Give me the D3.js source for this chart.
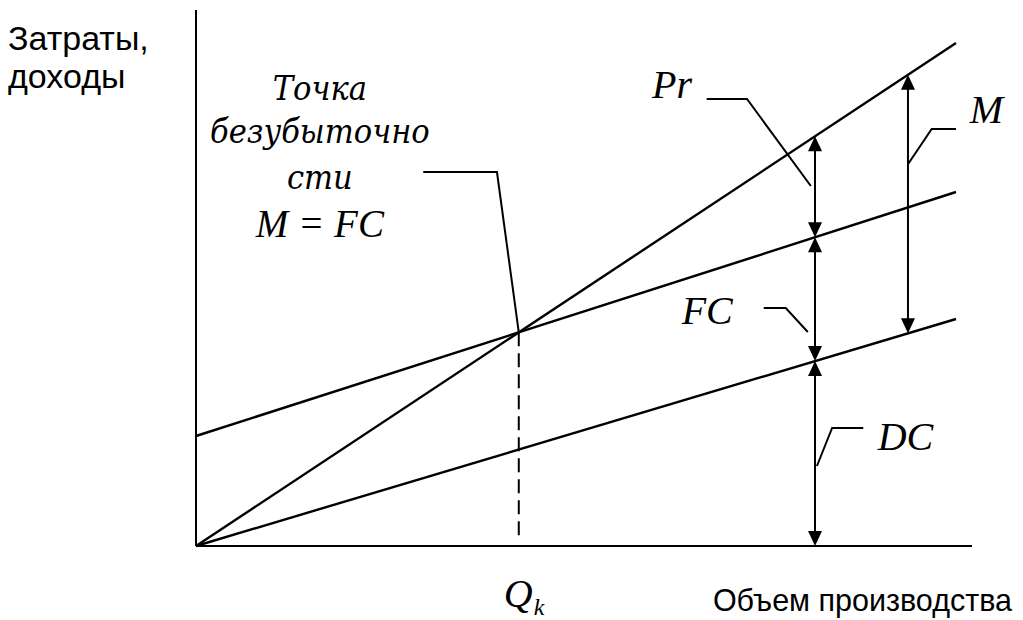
<!DOCTYPE html>
<html>
<head>
<meta charset="utf-8">
<script src="https://cdn.jsdelivr.net/npm/d3@7"></script>
<style>
  html, body { margin: 0; padding: 0; background: #fff; }
  svg { display: block; }
</style>
</head>
<body>
<svg id="chart" width="1023" height="620"></svg>
<script>
// ---------------- DATA ----------------
// Volume (Q) at the two ends of each line
const volume = [0, 100];
// Revenue line (TR), total-cost line (TC = FC + DC), variable-cost line (DC)
const revenue = [0, 100.6];
const totalCost = [22, 70.8];
const variableCost = [0, 45.4];
// Volumes where the measuring arrows stand
const arrowVolumeLeft = 81.45;   // Pr / FC / DC
const arrowVolumeRight = 93.68;  // M
// Axis extents (data units)
const xAxisMax = 102.1;
const yAxisMax = 107.2;
// Text labels
const yAxisTitle = ["Затраты,", "доходы"];
const xAxisTitle = "Объем производства";
const breakEvenText = ["Точка", "безубыточно", "сти", "M = FC"];
const qLabel = ["Q", "k"];

// Annotations: label text, label anchor (data units), leader polyline (data units)
const annotations = [
  { text: "Pr", at: [60.0, 89.6], leader: [[67.2, 89.4], [72.5, 89.4], [80.9, 72.0]] },
  { text: "M",  at: [101.8, 84.6], leader: [[100.0, 83.4], [96.8, 83.4], [93.7, 76.4]] },
  { text: "FC", at: [63.9, 44.4], leader: [[74.7, 47.6], [77.6, 47.6], [80.5, 42.8]] },
  { text: "DC", at: [89.7, 19.2], leader: [[87.8, 23.6], [83.7, 23.6], [81.7, 16.0]] }
];
const breakEvenLeader = [[29.9, 74.8], [39.6, 74.8]];
const breakEvenTextX = 16.3;
const breakEvenTextY = [89.2, 80.6, 71.4, 61.8];
const qLabelY = -12.2;

// ---------------- LAYOUT ----------------
const svg = d3.select("#chart");
const x = d3.scaleLinear().domain([0, 100]).range([196, 956]);
const y = d3.scaleLinear().domain([0, 100]).range([546, 46]);
const serif = "'Liberation Serif', 'Times New Roman', serif";
const cyrItalic = "'DejaVu Serif Condensed', 'DejaVu Serif', serif";
const sans = "'Liberation Sans', Arial, sans-serif";

const lineGen = d3.line().x(d => x(d[0])).y(d => y(d[1]));
const interp = (arr, q) => arr[0] + (arr[1] - arr[0]) * (q - volume[0]) / (volume[1] - volume[0]);

// Axes
svg.append("line").attr("x1", x(0)).attr("y1", y(0)).attr("x2", x(xAxisMax)).attr("y2", y(0))
  .attr("stroke", "#000").attr("stroke-width", 2);
svg.append("line").attr("x1", x(0)).attr("y1", y(0)).attr("x2", x(0)).attr("y2", y(yAxisMax))
  .attr("stroke", "#000").attr("stroke-width", 2);

// Main lines
[revenue, totalCost, variableCost].forEach(s => {
  svg.append("path")
    .attr("d", lineGen(volume.map((q, i) => [q, s[i]])))
    .attr("fill", "none").attr("stroke", "#000").attr("stroke-width", 2.4);
});

// Break-even point
const slopeR = (revenue[1] - revenue[0]) / (volume[1] - volume[0]);
const slopeT = (totalCost[1] - totalCost[0]) / (volume[1] - volume[0]);
const qBE = (totalCost[0] - revenue[0]) / (slopeR - slopeT);
const vBE = interp(revenue, qBE);

svg.append("line")
  .attr("x1", x(qBE)).attr("y1", y(vBE)).attr("x2", x(qBE)).attr("y2", y(0) - 7)
  .attr("stroke", "#000").attr("stroke-width", 2).attr("stroke-dasharray", "14,7");

// Arrows
function arrowHead(px, py, dir) { // dir: -1 pointing up, +1 pointing down; tip at (px,py)
  const L = 15, W = 7;
  svg.append("path")
    .attr("d", `M${px},${py} L${px - W},${py - dir * L} L${px + W},${py - dir * L} Z`)
    .attr("fill", "#000");
}
function doubleArrow(q, v1, v2) { // v1 lower, v2 upper
  const px = x(q), yb = y(v1), yt = y(v2);
  svg.append("line").attr("x1", px).attr("y1", yb - 10).attr("x2", px).attr("y2", yt + 10)
    .attr("stroke", "#000").attr("stroke-width", 2);
  arrowHead(px, yb, 1);
  arrowHead(px, yt, -1);
}
const lDC = interp(variableCost, arrowVolumeLeft);
const lTC = interp(totalCost, arrowVolumeLeft);
const lR = interp(revenue, arrowVolumeLeft);
doubleArrow(arrowVolumeLeft, 0, lDC);
doubleArrow(arrowVolumeLeft, lDC, lTC);
doubleArrow(arrowVolumeLeft, lTC, lR);
doubleArrow(arrowVolumeRight, interp(variableCost, arrowVolumeRight), interp(revenue, arrowVolumeRight));

// Annotation leaders & labels
annotations.forEach(a => {
  svg.append("path").attr("d", lineGen(a.leader))
    .attr("fill", "none").attr("stroke", "#000").attr("stroke-width", 2);
  svg.append("text").attr("x", x(a.at[0])).attr("y", y(a.at[1]))
    .attr("font-family", serif).attr("font-style", "italic").attr("font-size", 40)
    .text(a.text);
});

// Break-even leader and text
svg.append("path").attr("d", lineGen([...breakEvenLeader, [qBE, vBE]]))
  .attr("fill", "none").attr("stroke", "#000").attr("stroke-width", 2);
breakEvenText.forEach((t, i) => {
  const cyr = /[а-яА-ЯёЁ]/.test(t);
  svg.append("text").attr("x", x(breakEvenTextX)).attr("y", y(breakEvenTextY[i]))
    .attr("text-anchor", "middle")
    .attr("font-family", cyr ? cyrItalic : serif).attr("font-style", "italic")
    .attr("font-size", cyr ? 34 : 39)
    .text(t);
});

// Q_k label
const qt = svg.append("text").attr("x", x(qBE) - 15).attr("y", y(qLabelY))
  .attr("font-family", serif).attr("font-style", "italic").attr("font-size", 40);
qt.append("tspan").text(qLabel[0]);
qt.append("tspan").attr("font-size", 24).attr("dy", 8).attr("dx", 1).text(qLabel[1]);

// Axis titles
yAxisTitle.forEach((t, i) => {
  svg.append("text").attr("x", 8).attr("y", 50 + i * 38)
    .attr("font-family", sans).attr("font-size", 34).text(t);
});
svg.append("text").attr("x", 1012).attr("y", 611).attr("text-anchor", "end")
  .attr("font-family", sans).attr("font-size", 30.5).text(xAxisTitle);
</script>
</body>
</html>
